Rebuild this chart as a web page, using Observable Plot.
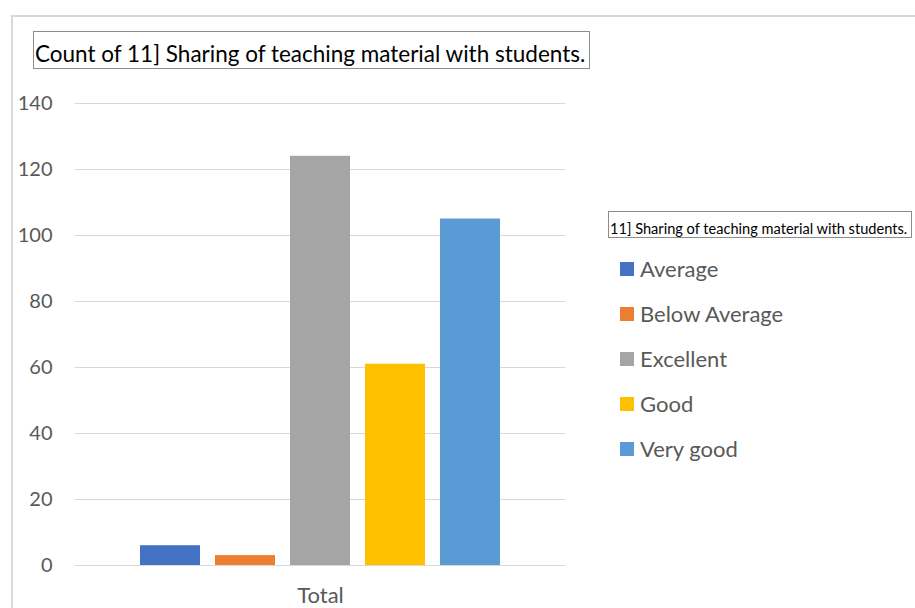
<!DOCTYPE html>
<html><head><meta charset="utf-8">
<script src="https://cdn.jsdelivr.net/npm/d3@7"></script>
<script src="https://cdn.jsdelivr.net/npm/@observablehq/plot@0.6"></script>
<style>
html,body{margin:0;padding:0;background:#fff;}
#wrap{position:relative;width:915px;height:608px;overflow:hidden;background:#fff;font-family:Lato,sans-serif;}
#frame{position:absolute;left:11px;top:15px;width:940px;height:640px;border:2px solid #d9d9d9;box-sizing:border-box;}
#chart{position:absolute;left:0;top:0;}
#title{position:absolute;left:33px;top:31px;width:557px;height:38px;border:1px solid #8c8c8c;box-sizing:border-box;
  font-size:22.5px;color:#000;line-height:44px;padding-left:1px;white-space:nowrap;overflow:hidden;}
#ltitle{position:absolute;left:608px;top:211px;width:304px;height:27px;border:1px solid #8c8c8c;box-sizing:border-box;
  font-size:14.6px;color:#000;white-space:nowrap;display:flex;align-items:flex-end;padding-left:1px;line-height:17px;overflow:hidden;}
#legend{position:absolute;left:620px;top:246px;}
.lg-swatch{padding-bottom:0 !important;height:45px;display:flex;align-items:center;font-size:22px;color:#595959;font-family:Lato,sans-serif;}
.lg-swatch > svg{margin-right:6px !important;}
</style>
</head><body><div id="wrap"><div id="frame"></div><div id="chart"></div><div id="title"></div><div id="ltitle"></div><div id="legend"></div></div>
<script>
const categories = ["Average", "Below Average", "Excellent", "Good", "Very good"];
const counts = [6, 3, 124, 61, 105];
const colors = ["#4472C4", "#ED7D31", "#A5A5A5", "#FFC000", "#5B9BD5"];
const groupLabel = "Total";
const yTicks = [0, 20, 40, 60, 80, 100, 120, 140];
const chartTitle = "Count of 11] Sharing of teaching material with students.";
const legendTitle = "11] Sharing of teaching material with students.";

const data = categories.map((c, i) => ({category: c, count: counts[i], group: groupLabel}));

const plot = Plot.plot({
  width: 600, height: 608,
  marginTop: 103, marginBottom: 43, marginLeft: 75, marginRight: 35,
  style: {fontFamily: "Lato, sans-serif", fontSize: "20px", color: "#595959", background: "transparent", overflow: "visible"},
  fx: {domain: [groupLabel], padding: 0, label: null},
  x: {domain: categories, paddingInner: 0.203, paddingOuter: 0.857, axis: null},
  y: {domain: [0, 140], label: null},
  color: {domain: categories, range: colors},
  marks: [
    Plot.gridY(yTicks, {stroke: "#d9d9d9", strokeOpacity: 1, strokeWidth: 1}),
    Plot.axisY(yTicks, {tickSize: 0, tickPadding: 23, label: null, fontSize: 20, fill: "#595959"}),
    Plot.axisFx({anchor: "bottom", tickSize: 0, tickPadding: 22, label: null, fontSize: 22, fill: "#595959"}),
    Plot.barY(data, {fx: "group", x: "category", y: "count", fill: "category"})
  ]
});
document.getElementById("chart").appendChild(plot);
document.getElementById("title").textContent = chartTitle;
document.getElementById("ltitle").textContent = legendTitle;
const leg = Plot.legend({color: {domain: categories, range: colors}, legend: "swatches", columns: 1, swatchSize: 14, className: "lg"});
leg.style.margin = "0";
document.getElementById("legend").appendChild(leg);
</script>
</body></html>
